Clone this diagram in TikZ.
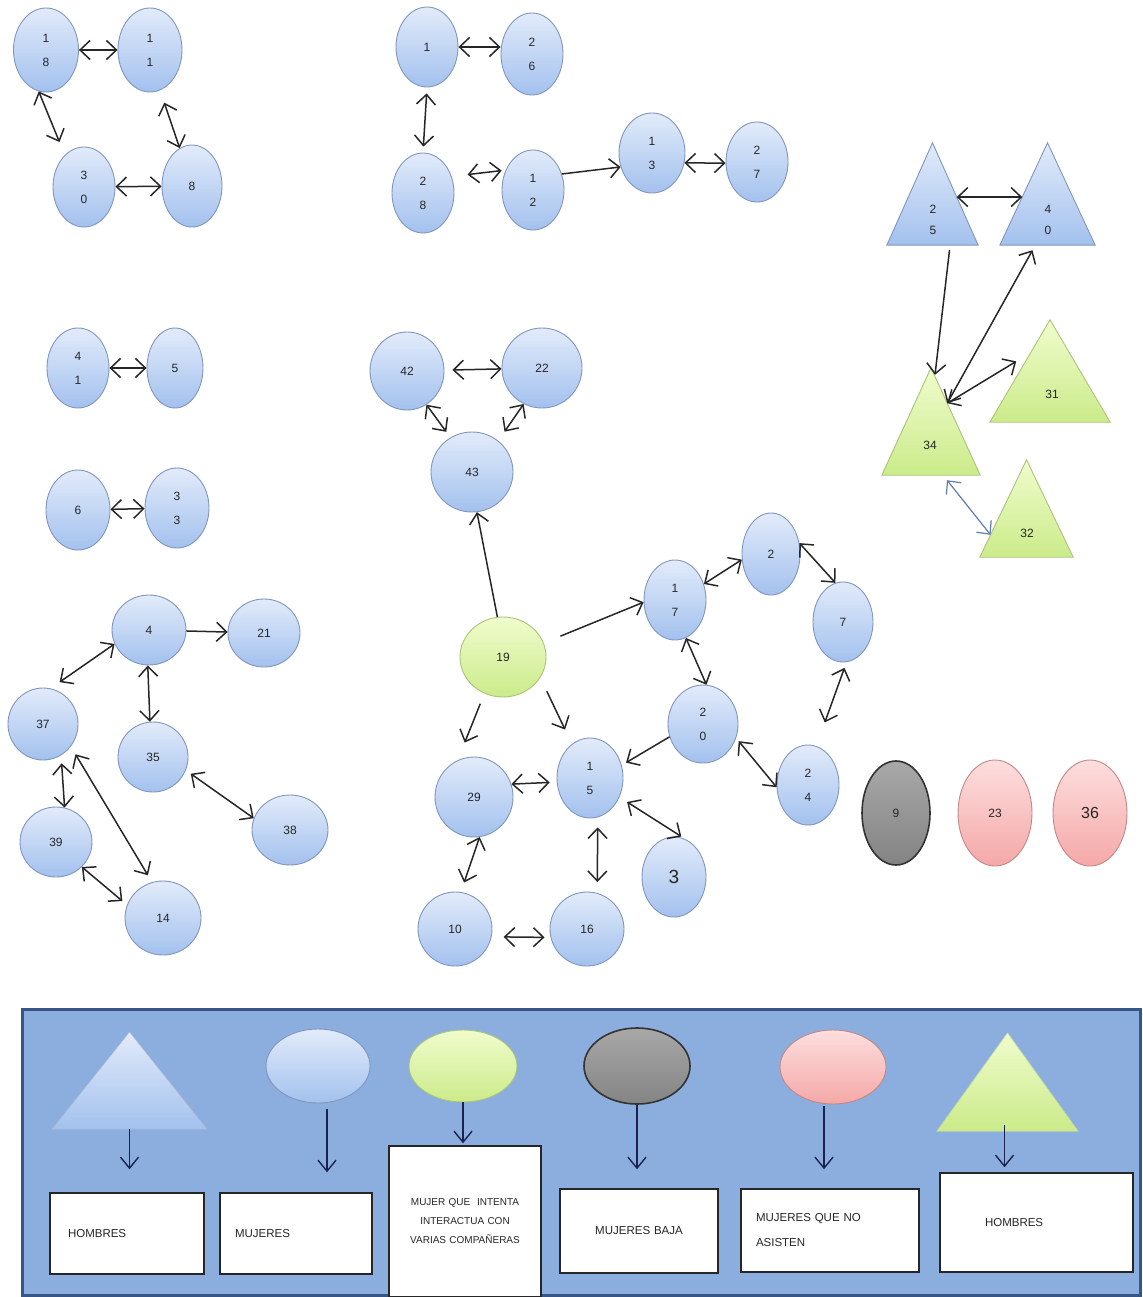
\documentclass[tikz,border=0pt]{standalone}
\usepackage{fontspec}
\setmainfont{Liberation Sans}
\usetikzlibrary{shapes.geometric,arrows.meta,calc}
\definecolor{bT}{RGB}{226,235,250}
\definecolor{bBt}{RGB}{163,193,238}
\definecolor{bD}{RGB}{128,150,190}
\definecolor{gT}{RGB}{240,252,205}
\definecolor{gBt}{RGB}{203,235,138}
\definecolor{gD}{RGB}{170,196,120}
\definecolor{pT}{RGB}{253,222,222}
\definecolor{pBt}{RGB}{245,168,168}
\definecolor{pD}{RGB}{195,135,135}
\definecolor{grT}{RGB}{168,168,168}
\definecolor{grBt}{RGB}{132,132,132}
\definecolor{legF}{RGB}{139,174,222}
\definecolor{legD}{RGB}{55,85,135}
\definecolor{navy}{RGB}{25,35,80}
\definecolor{steel}{RGB}{95,125,175}
\tikzset{
  sz/.style 2 args={minimum width=#1pt, minimum height=#2pt},
  fem/.style={ellipse, draw=bD, line width=0.9pt, top color=bT, bottom color=bBt, inner sep=0pt, align=center, text=black!85, font=\fontsize{12}{24}\selectfont},
  femg/.style={fem, draw=gD, top color=gT, bottom color=gBt},
  femp/.style={fem, draw=pD, top color=pT, bottom color=pBt},
  femgr/.style={fem, draw=black!80, line width=1.6pt, top color=grT, bottom color=grBt},
  tri/.style={rectangle, draw=none, inner sep=0pt},
  trilab/.style={align=center, inner sep=0pt, text=black!85, font=\fontsize{12}{21}\selectfont},
  triB/.style={top color=bT, bottom color=bBt, draw=bD, line width=0.9pt},
  triG/.style={top color=gT, bottom color=gBt, draw=gD, line width=0.9pt},
  link/.style={draw=black!85, line width=1.5pt, -{Straight Barb[length=10pt,width=19pt]}},
  dlink/.style={draw=black!85, line width=1.5pt, {Straight Barb[length=10pt,width=19pt]}-{Straight Barb[length=10pt,width=19pt]}},
  larrow/.style={draw=navy, line width=1.4pt, -{Straight Barb[length=11pt,width=18pt]}},
  lbox/.style={rectangle, draw=black!85, line width=1.5pt, fill=white, inner ysep=0pt, font=\fontsize{11.5}{19}\selectfont, text=black!85}
}
\begin{document}
\begin{tikzpicture}[x=1pt,y=-1pt]
\useasboundingbox (0,0) rectangle (1142,1297);

% ---------- top-left cluster
\node[fem, sz={65}{84}] (n18) at (46,50) {1\\8};
\node[fem, sz={64}{84}] (n11) at (150,50) {1\\1};
\node[fem, sz={62}{80}] (n30) at (84,187) {3\\0};
\node[fem, sz={60}{82}] (n8) at (192,186) {8};
\draw[dlink] (n18) -- (n11);
\draw[dlink, shorten >=14pt] (n18.260) -- (n30.121);
\draw[dlink, shorten <=13pt] (n11.284) -- (n8.108);
\draw[dlink] (n30) -- (n8);

% ---------- top-middle cluster
\node[fem, sz={62}{80}] (n1) at (427,47) {1};
\node[fem, sz={62}{82}] (n26) at (532,54) {2\\6};
\node[fem, sz={62}{80}] (n28) at (423,193) {2\\8};
\node[fem, sz={62}{80}] (n12) at (533,190) {1\\2};
\node[fem, sz={66}{80}] (n13) at (652,153) {1\\3};
\node[fem, sz={62}{80}] (n27) at (757,162) {2\\7};
\draw[dlink] (n1.east) -- (n26.west |- n1.east);
\draw[dlink, shorten <=6pt, shorten >=6pt] (n1.south) -- (n28.north);
\draw[dlink, shorten <=16pt, shorten >=4pt] (n28.30) -- (n12.144);
\draw[link] (n12.29) -- (n13.204);
\draw[dlink] (n13.343) -- (n27.182);

% ---------- pairs on the left
\node[fem, sz={62}{80}] (n41) at (78,368) {4\\1};
\node[fem, sz={56}{80}] (n5) at (175,368) {5};
\node[fem, sz={64}{80}] (n6) at (78,510) {6};
\node[fem, sz={64}{80}] (n33) at (177,508) {3\\3};
\draw[dlink] (n41) -- (n5);
\draw[dlink] (n6) -- (n33);

% ---------- 42 / 22 / 43
\node[fem, sz={74}{78}] (n42) at (407,371) {42};
\node[fem, sz={80}{80}] (n22) at (542,368) {22};
\node[fem, sz={82}{80}] (n43) at (472,472) {43};
\draw[dlink, shorten <=8pt] (n42) -- (n22);
\draw[dlink, shorten >=7pt] (n42.300) -- (n43.122);
\draw[dlink, shorten >=11pt] (n22.243) -- (n43.50);

% ---------- bottom-left cluster
\node[fem, sz={74}{70}] (n4) at (149,630) {4};
\node[fem, sz={72}{68}] (n21) at (264,633) {21};
\node[fem, sz={70}{72}] (n37) at (43,724) {37};
\node[fem, sz={70}{70}] (n35) at (153,757) {35};
\node[fem, sz={76}{70}] (n38) at (290,830) {38};
\node[fem, sz={72}{70}] (n39) at (56,842) {39};
\node[fem, sz={76}{74}] (n14) at (163,918) {14};
\draw[link] (n4) -- (n21);
\draw[dlink, shorten >=11pt] (n4.202) -- (n37.78);
\draw[dlink] (n4.268) -- (n35.95);
\draw[dlink, shorten <=8pt] (n37.300) -- (n39.76);
\draw[dlink, shorten <=9pt, shorten >=8pt] (n37.321) -- (n14.107);
\draw[dlink, shorten <=6pt] (n35.338) -- (n38.162);
\draw[dlink, shorten >=6pt] (n39.316) -- (n14.160);

% ---------- central cluster
\node[femg, sz={86}{80}] (n19) at (503,657) {19};
\node[fem, sz={62}{80}] (n17) at (675,600) {1\\7};
\node[fem, sz={58}{82}] (n2) at (771,554) {2};
\node[fem, sz={60}{80}] (n7) at (843,622) {7};
\node[fem, sz={70}{78}] (n20) at (703,724) {2\\0};
\node[fem, sz={62}{80}] (n24) at (808,785) {2\\4};
\node[fem, sz={66}{80}] (n15) at (590,778) {1\\5};
\node[fem, sz={78}{80}] (n29) at (474,797) {29};
\node[fem, sz={64}{80}, font=\fontsize{19}{20}\selectfont] (n3) at (674,877) {3};
\node[fem, sz={74}{74}] (n10) at (455,929) {10};
\node[fem, sz={74}{74}] (n16) at (587,929) {16};
\draw[link] (n19.98) -- (n43.277);
\draw[link, shorten <=18pt] (n19.19) -- (n17.184);
\draw[link, shorten <=15pt, shorten >=16pt] (n19.331) -- (n15.118);
\draw[link, shorten <=11pt, shorten >=19pt] (n19.243) -- (n29.114);
\draw[dlink] (n17.29) -- (n2.191);
\draw[dlink] (n2.21) -- (n7.101);
\draw[dlink] (n17.286) -- (n20.85);
\draw[dlink, shorten <=6pt, shorten >=25pt] (n7.275) -- (n24.78);
\draw[link, shorten >=5pt] (n20.201) -- (n15.22);
\draw[dlink, shorten <=4pt] (n20.337) -- (n24.184);
\draw[dlink, shorten >=7pt] (n29.19) -- (n15.187);
\draw[dlink, shorten <=9pt, shorten >=5pt] (n15.327) -- (n3.73);
\draw[dlink, shorten <=10pt, shorten >=11pt] (n15.281) -- (n16.74);
\draw[dlink, shorten >=10pt] (n29.278) -- (n10.81);
\draw[dlink, shorten <=12pt, shorten >=6pt] (n10.348) -- (n16.193);

% ---------- right ellipses
\node[femgr, sz={68}{104}] (n9) at (896,813) {9};
\node[femp, sz={74}{106}] (n23) at (995,813) {23};
\node[femp, sz={74}{106}, font=\fontsize{16}{18}\selectfont] (n36) at (1090,813) {36};

% ---------- triangles (men)
\node[tri, sz={91}{102}] (t25) at (932.5,194) {};
\node[tri, sz={95}{102}] (t40) at (1047.5,194) {};
\node[tri, sz={120}{102}] (t31) at (1050,371) {};
\node[tri, sz={98}{107}] (t34) at (931,421.5) {};
\node[tri, sz={93}{97}] (t32) at (1026.5,508.5) {};
\path[triB] (t25.south west) -- (t25.north) -- (t25.south east) -- cycle;
\path[triB] (t40.south west) -- (t40.north) -- (t40.south east) -- cycle;
\path[triG] (t31.south west) -- (t31.north) -- (t31.south east) -- cycle;
\path[triG] (t34.south west) -- (t34.north) -- (t34.south east) -- cycle;
\path[triG] (t32.south west) -- (t32.north) -- (t32.south east) -- cycle;
\node[trilab] (t25l) at (933,220) {2\\5};
\node[trilab] (t40l) at (1048,220) {4\\0};
\node[trilab] (t31l) at (1052,394) {31};
\node[trilab] (t34l) at (930,445) {34};
\node[trilab] (t32l) at (1027,533) {32};
\draw[dlink] ($(t25.north)!0.53!(t25.south east)$) -- ($(t40.north)!0.53!(t40.south west)$);
\draw[link] ($(t25.south)+(17,5)$) -- ($(t34.north)+(4,7)$);
\draw[dlink] ($(t40.south)+(-15,5)$) -- ($(t34.north)!0.33!(t34.south east)$);
\draw[dlink, shorten >=17pt] ($(t34.north)!0.33!(t34.south east)$) -- ($(t31.north)!0.32!(t31.south west)$);
\draw[dlink, draw=steel, line width=1.2pt] ($(t34.south)+(16,5)$) -- ($(t32.north)!0.77!(t32.south west)$);

% ---------- legend
\node[rectangle, draw=legD, line width=3pt, fill=legF, sz={1118}{286}, inner sep=0pt] (leg) at (581,1152) {};
\node[tri, sz={155}{97}] (lt1) at (129.5,1080.5) {};
\path[top color=bT, bottom color=bBt, draw=bD!70, line width=0.6pt] (lt1.south west) -- (lt1.north) -- (lt1.south east) -- cycle;
\node[fem, sz={104}{74}] (le1) at (318,1066) {};
\node[femg, sz={108}{72}] (le2) at (463,1066) {};
\node[femgr, sz={106}{76}] (le3) at (637,1066) {};
\node[femp, sz={106}{74}] (le4) at (833,1067) {};
\node[tri, sz={141}{98}] (lt2) at (1007.5,1082) {};
\path[top color=gT, bottom color=gBt, draw=gD!70, line width=0.6pt] (lt2.south west) -- (lt2.north) -- (lt2.south east) -- cycle;

\node[lbox, sz={154}{81}, text width=118pt, inner xsep=18pt, align=left] (b1) at (127,1233.5) {HOMBRES};
\node[lbox, sz={152}{81}, text width=122pt, inner xsep=15pt, align=left] (b2) at (296,1233.5) {MUJERES};
\node[lbox, sz={152}{151}, text width=144pt, inner xsep=4pt, align=center, font=\fontsize{10}{19}\selectfont] (b3) at (465,1221.5) {MUJER QUE~ INTENTA\\INTERACTUA CON\\VARIAS COMPAÑERAS};
\node[lbox, sz={158}{84}, text width=150pt, inner xsep=4pt, align=center] (b4) at (639,1231) {MUJERES BAJA};
\node[lbox, sz={178}{83}, text width=148pt, inner xsep=15pt, align=left, font=\fontsize{11.5}{25}\selectfont] (b5) at (830,1230.5) {MUJERES QUE NO\\ASISTEN};
\node[lbox, sz={193}{99}, text width=103pt, inner xsep=45pt, align=left] (b6) at (1036.5,1222.5) {HOMBRES};

\draw[larrow, shorten >=23pt] (lt1.south) -- (lt1.south |- b1.north);
\draw[larrow, shorten <=6pt, shorten >=20pt] ($(le1.south)+(9,0)$) -- ($(le1.south |- b2.north)+(9,0)$);
\draw[larrow, shorten >=2pt] (le2.south) -- (le2.south |- b3.north);
\draw[larrow, shorten >=19pt] (le3.south) -- (le3.south |- b4.north);
\draw[larrow, shorten <=2pt, shorten >=19pt] ($(le4.south)+(-9,0)$) -- ($(le4.south |- b5.north)+(-9,0)$);
\draw[larrow, shorten >=5pt] ($(lt2.south)+(-3,-6)$) -- ($(lt2.south |- b6.north)+(-3,0)$);
\end{tikzpicture}
\end{document}
